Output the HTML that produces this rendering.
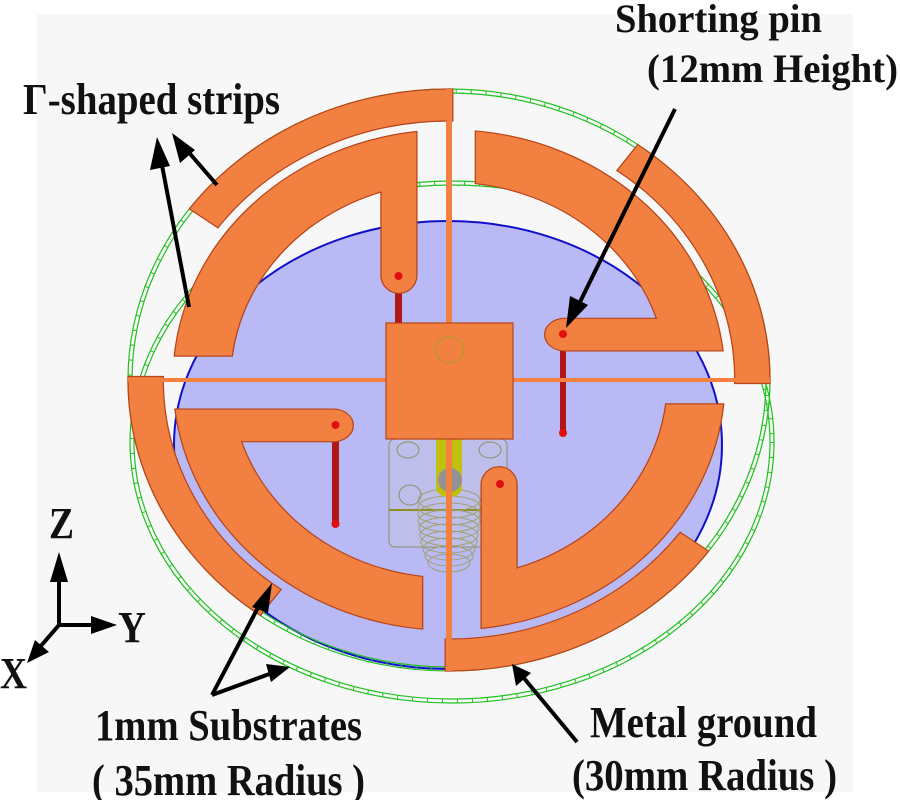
<!DOCTYPE html>
<html><head><meta charset="utf-8"><style>
html,body{margin:0;padding:0;background:#fff;}
svg{display:block;}
text{font-family:"Liberation Serif",serif;font-weight:bold;fill:#111;}
</style></head><body>
<svg width="900" height="800" viewBox="0 0 900 800" xmlns="http://www.w3.org/2000/svg">
<defs>
<path id="gam" d="M -0.10 -0.854 L -0.10 -0.36 A 0.056 0.062 0 0 1 -0.212 -0.36 L -0.212 -0.646 A 0.68 0.68 0 0 0 -0.675 -0.082 L -0.856 -0.082 A 0.86 0.86 0 0 1 -0.10 -0.854 Z"/>
<path id="oarc" d="M 0.012 -1 L 0 -1 A 1 1 0 0 0 -0.809 -0.588 L -0.720 -0.523 A 0.89 0.89 0 0 1 0 -0.89 L 0.012 -0.89 Z"/>
</defs>
<rect x="37" y="14" width="816" height="778" fill="#f7f7f7"/>
<ellipse cx="448" cy="445" rx="274" ry="224" fill="#b9b9f5" stroke="#1010c8" stroke-width="2"/>
<g fill="none" stroke="#22c022">
<ellipse cx="452" cy="442" rx="322" ry="261" stroke-width="1.2"/>
<ellipse cx="452" cy="442" rx="318" ry="257" stroke-width="1.2"/>
<ellipse cx="452" cy="442" rx="320" ry="259" stroke-width="4" stroke-dasharray="1 14"/>
<ellipse cx="449" cy="380" rx="321" ry="291" stroke-width="1.2"/>
<ellipse cx="449" cy="380" rx="317" ry="287" stroke-width="1.2"/>
<ellipse cx="449" cy="380" rx="319" ry="289" stroke-width="4" stroke-dasharray="1 14"/>
</g>
<g fill="none" stroke="#8a8a5a" stroke-width="1" opacity="0.9">
<rect x="389" y="439" width="118" height="108" rx="6" fill="#c8c8d8" fill-opacity="0.4"/>
<ellipse cx="408" cy="450" rx="11" ry="8"/>
<ellipse cx="490" cy="450" rx="11" ry="8"/>
<ellipse cx="410" cy="495" rx="11" ry="10"/>
<line x1="389" y1="510" x2="507" y2="510" stroke="#8a8a10" stroke-width="2"/>
</g>
<g fill="none" stroke="#a0a070" stroke-width="1">
<ellipse cx="449" cy="500" rx="31" ry="11"/><ellipse cx="449" cy="507" rx="31" ry="11"/>
<ellipse cx="449" cy="514" rx="31" ry="11"/><ellipse cx="449" cy="521" rx="31" ry="11"/>
<ellipse cx="449" cy="528" rx="30" ry="11"/><ellipse cx="449" cy="535" rx="29" ry="11"/>
<ellipse cx="449" cy="542" rx="28" ry="11"/><ellipse cx="449" cy="549" rx="26" ry="11"/>
<ellipse cx="449" cy="556" rx="24" ry="10"/><ellipse cx="449" cy="563" rx="21" ry="9"/>
</g>
<ellipse cx="449" cy="488" rx="13" ry="9" fill="#c0c000"/>
<rect x="436" y="439" width="26" height="49" fill="#c0c010"/>
<circle cx="450" cy="480" r="12" fill="#8080d0" opacity="0.7"/>
<g fill="#b01818">
<rect x="395" y="280" width="7" height="45"/>
<rect x="560" y="335" width="6" height="98"/>
<rect x="332" y="428" width="7" height="96"/>
</g>
<circle cx="563" cy="433" r="4" fill="#e01010"/>
<circle cx="335.5" cy="524" r="4" fill="#e01010"/>
<g transform="translate(449,380) scale(321,291)" fill="#f28040" stroke="#b8441a" stroke-width="0.004">
<use href="#gam"/>
<use href="#gam" transform="rotate(90)"/>
<use href="#gam" transform="rotate(180)"/>
<use href="#gam" transform="rotate(270)"/>
<use href="#oarc"/>
<use href="#oarc" transform="rotate(90)"/>
<use href="#oarc" transform="rotate(180)"/>
<use href="#oarc" transform="rotate(270)"/>
<rect x="-0.0093" y="-1" width="0.0186" height="2" stroke="none"/>
<rect x="-1" y="-0.007" width="2" height="0.014" stroke="none"/>
</g>
<rect x="386" y="323" width="127" height="116" fill="#f28040" stroke="#b8441a" stroke-width="1.2"/>
<ellipse cx="449.5" cy="350" rx="14" ry="13" fill="none" stroke="#a0a020" stroke-width="1"/>
<g fill="#e01010">
<circle cx="398.5" cy="276" r="4"/>
<circle cx="563" cy="334" r="4"/>
<circle cx="335.5" cy="425" r="4"/>
<circle cx="500" cy="484" r="4"/>
</g>
<g stroke="#000" stroke-width="4" fill="#000">
<line x1="189" y1="307" x2="161" y2="160"/>
<polygon points="157,137 150,170 170,166" stroke="none"/>
<line x1="217" y1="185" x2="185" y2="148"/>
<polygon points="172,133 180,163 195,150" stroke="none"/>
<line x1="675" y1="109" x2="578" y2="306"/>
<polygon points="566,328 570,296 588,305" stroke="none"/>
<line x1="212" y1="695" x2="262" y2="600"/>
<polygon points="272,583 252,607 268,613" stroke="none"/>
<line x1="212" y1="695" x2="272" y2="673"/>
<polygon points="290,667 266,664 271,682" stroke="none"/>
<line x1="577" y1="742" x2="523" y2="677"/>
<polygon points="512,664 516,686 531,673" stroke="none"/>
<line x1="59" y1="625" x2="59" y2="575"/>
<polygon points="59,552 50,582 68,582" stroke="none"/>
<line x1="57" y1="625" x2="95" y2="625"/>
<polygon points="117,625 91,616 91,634" stroke="none"/>
<line x1="59" y1="625" x2="40" y2="647"/>
<polygon points="27,663 35,640 49,652" stroke="none"/>
</g>
<text x="23" y="114" font-size="44" textLength="257" lengthAdjust="spacingAndGlyphs">Γ-shaped strips</text>
<text x="615" y="32" font-size="40" textLength="207" lengthAdjust="spacingAndGlyphs">Shorting pin</text>
<text x="647" y="82" font-size="40" textLength="251" lengthAdjust="spacingAndGlyphs">(12mm Height)</text>
<text x="95" y="740" font-size="44" textLength="267" lengthAdjust="spacingAndGlyphs">1mm Substrates</text>
<text x="92" y="795" font-size="44" textLength="273" lengthAdjust="spacingAndGlyphs">( 35mm Radius )</text>
<text x="590" y="737" font-size="44" textLength="227" lengthAdjust="spacingAndGlyphs">Metal ground</text>
<text x="572" y="790" font-size="44" textLength="265" lengthAdjust="spacingAndGlyphs">(30mm Radius )</text>
<text x="49" y="538" font-size="44" textLength="25" lengthAdjust="spacingAndGlyphs">Z</text>
<text x="118" y="642" font-size="44" textLength="28" lengthAdjust="spacingAndGlyphs">Y</text>
<text x="0" y="688" font-size="44" textLength="27" lengthAdjust="spacingAndGlyphs">X</text>
</svg>
</body></html>
